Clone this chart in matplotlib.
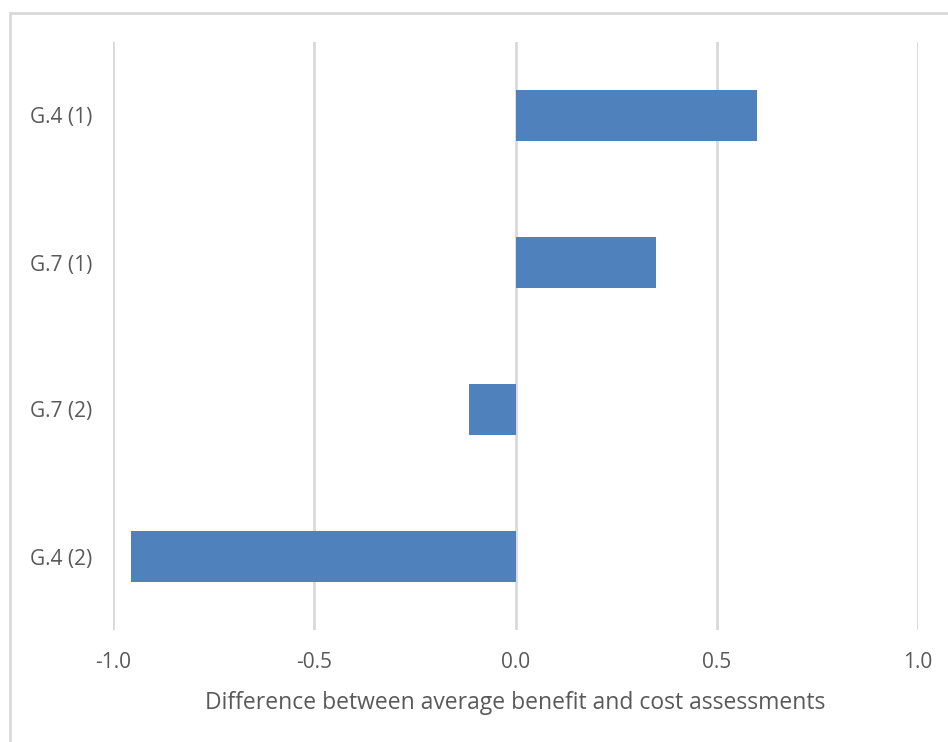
import matplotlib
matplotlib.use("Agg")
import matplotlib.pyplot as plt
from matplotlib.patches import Rectangle

categories = ["G.4 (1)", "G.7 (1)", "G.7 (2)", "G.4 (2)"]
values = [0.60, 0.35, -0.115, -0.955]
xticks = [-1.0, -0.5, 0.0, 0.5, 1.0]
xlabel = "Difference between average benefit and cost assessments"

plt.rcParams['font.family'] = ['Open Sans', 'DejaVu Sans']

fig = plt.figure(figsize=(9.48, 7.42), dpi=100)
ax = fig.add_axes([113/948, 1-630/742, (918-113)/948, (630-42)/742])

ypos = list(range(len(categories)))[::-1]
ax.barh(ypos, values, height=0.35, color="#4F81BD", zorder=3)
ax.set_ylim(-0.5, len(categories)-0.5)
ax.set_xlim(-1.0, 1.0)
ax.set_yticks(ypos)
ax.set_yticklabels(categories)
ax.set_xticks(xticks)
ax.set_xticklabels([f"{t:.1f}" for t in xticks])
ax.grid(axis='x', color="#D9D9D9", linewidth=2, zorder=0)
ax.grid(axis='y', visible=False)
for s in ax.spines.values():
    s.set_visible(False)
ax.tick_params(axis='both', length=0, colors="#595959", labelsize=15)
ax.tick_params(axis='y', pad=15)
ax.tick_params(axis='x', pad=16)
ax.set_xlabel(xlabel, fontsize=16.5, color="#595959", labelpad=13)

fig.patches.append(Rectangle((10/948, -0.1), 1.2, (742-13)/742 + 0.1,
                             transform=fig.transFigure, fill=False,
                             edgecolor="#D9D9D9", linewidth=2))

fig.savefig("out.png", dpi=100)
